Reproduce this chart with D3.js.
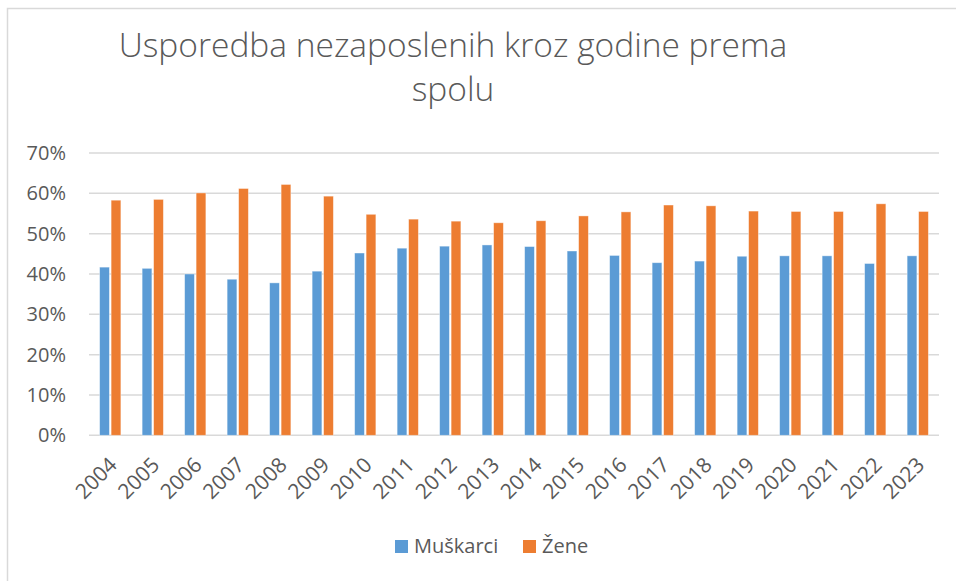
<!DOCTYPE html>
<html>
<head>
<meta charset="utf-8">
<script src="https://cdn.jsdelivr.net/npm/d3@7"></script>
<style>
  body { margin: 0; background: #fff; }
  text { font-family: "Open Sans", sans-serif; fill: #595959; }
</style>
</head>
<body>
<div id="chart"></div>
<script>
// podaci
const years = ['2004','2005','2006','2007','2008','2009','2010','2011','2012','2013',
               '2014','2015','2016','2017','2018','2019','2020','2021','2022','2023'];
const muskarci = [41.7, 41.4, 40.0, 38.7, 37.8, 40.7, 45.2, 46.4, 46.9, 47.2,
                  46.8, 45.7, 44.6, 42.8, 43.2, 44.4, 44.5, 44.5, 42.6, 44.5];
const zene = [58.3, 58.5, 60.1, 61.2, 62.2, 59.3, 54.8, 53.6, 53.1, 52.7,
              53.2, 54.4, 55.4, 57.1, 56.9, 55.6, 55.5, 55.5, 57.4, 55.5];
const seriesNames = ['Muškarci', 'Žene'];
const colors = ['#5B9BD5', '#ED7D31'];
const yTicks = [0, 10, 20, 30, 40, 50, 60, 70];

const width = 956, height = 581;
const margin = { top: 153, right: 17, bottom: 146, left: 89 };

const svg = d3.select('#chart').append('svg')
  .attr('width', width)
  .attr('height', height);

// okvir grafikona
svg.append('rect')
  .attr('x', 7.5).attr('y', 8.5)
  .attr('width', 960).attr('height', 600)
  .attr('fill', 'none')
  .attr('stroke', '#d9d9d9')
  .attr('stroke-width', 1.5);

const x = d3.scaleBand()
  .domain(years)
  .range([margin.left, width - margin.right])
  .paddingInner(0.5)
  .paddingOuter(0.25);

const xSub = d3.scaleBand()
  .domain(seriesNames)
  .range([0, x.bandwidth()])
  .paddingInner(0.15);

const y = d3.scaleLinear()
  .domain([0, 70])
  .range([height - margin.bottom + 0.3, margin.top]);

// mreža
svg.append('g')
  .selectAll('line')
  .data(yTicks)
  .join('line')
  .attr('x1', margin.left)
  .attr('x2', width - margin.right)
  .attr('y1', d => y(d))
  .attr('y2', d => y(d))
  .attr('stroke', '#d9d9d9')
  .attr('stroke-width', 1.5);

// oznake osi y
svg.append('g')
  .selectAll('text')
  .data(yTicks)
  .join('text')
  .attr('x', 66)
  .attr('y', d => y(d))
  .attr('dy', '0.35em')
  .attr('text-anchor', 'end')
  .style('font-size', '20px')
  .text(d => d + '%');

// stupci
const table = years.map((yr, i) => ({ year: yr, values: [muskarci[i], zene[i]] }));

const groups = svg.append('g')
  .selectAll('g')
  .data(table)
  .join('g')
  .attr('transform', d => `translate(${x(d.year)},0)`);

groups.selectAll('rect')
  .data(d => d.values.map((v, k) => ({ key: seriesNames[k], value: v, k })))
  .join('rect')
  .attr('x', d => xSub(d.key))
  .attr('y', d => y(d.value))
  .attr('width', xSub.bandwidth())
  .attr('height', d => y(0) - y(d.value))
  .attr('fill', d => colors[d.k])
  .attr('stroke', '#fff')
  .attr('stroke-opacity', 0.5)
  .attr('stroke-width', 0.8);

// oznake osi x
svg.append('g')
  .selectAll('text')
  .data(years)
  .join('text')
  .attr('transform', d => `translate(${x(d) + x.bandwidth() / 2 + 8},${y(0) + 31}) rotate(-45)`)
  .attr('text-anchor', 'end')
  .style('font-size', '21px')
  .text(d => d);

// naslov
const title = svg.append('text')
  .attr('text-anchor', 'middle')
  .style('font-size', '33.5px')
  .style('font-weight', 300);
title.append('tspan').attr('x', 453).attr('y', 57).text('Usporedba nezaposlenih kroz godine prema');
title.append('tspan').attr('x', 453).attr('y', 101).text('spolu');

// legenda
const legend = svg.append('g');
const legendX = [395, 523];
seriesNames.forEach((name, k) => {
  legend.append('rect')
    .attr('x', legendX[k]).attr('y', 540)
    .attr('width', 13).attr('height', 13)
    .attr('fill', colors[k]);
  legend.append('text')
    .attr('x', legendX[k] + 19).attr('y', 553)
    .style('font-size', '20px')
    .text(name);
});
</script>
</body>
</html>
